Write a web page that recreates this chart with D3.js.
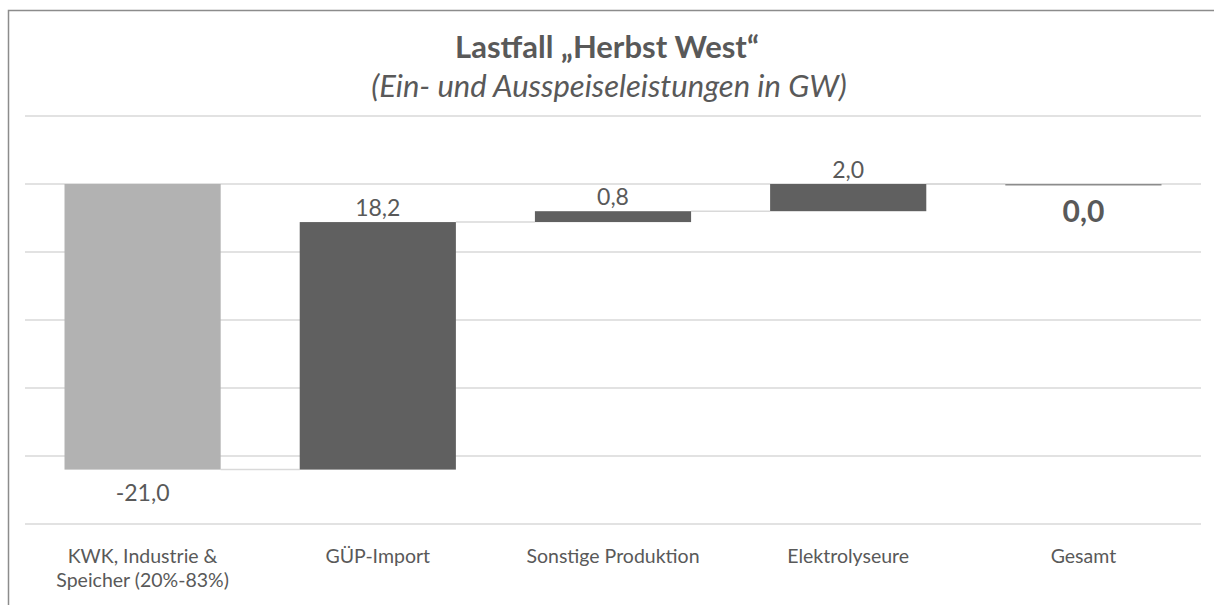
<!DOCTYPE html>
<html>
<head>
<meta charset="utf-8">
<script src="https://cdn.jsdelivr.net/npm/d3@7"></script>
<style>
  body { margin: 0; background: #fff; }
  svg { display: block; font-family: Lato, "Open Sans", sans-serif; }
</style>
</head>
<body>
<script>
'use strict';

let WIDTH = 1214;
let HEIGHT = 605;

let categories = [['KWK, Industrie &', 'Speicher (20%-83%)'], ['GÜP-Import'], ['Sonstige Produktion'], ['Elektrolyseure'], ['Gesamt']];
let values = [-21.0, 18.2, 0.8, 2.0, 0.0];
let isTotal = [false, false, false, false, true];
let yTicks = [5, 0, -5, -10, -15, -20, -25];

// waterfall start / end for each step
let steps = [];
let running = 0;
for (let i = 0; i < values.length; i++) {
    if (isTotal[i]) {
        steps.push({ i: i, start: 0, end: running, value: running });
    } else {
        steps.push({ i: i, start: running, end: running + values[i], value: values[i] });
        running += values[i];
    }
}

let svg = d3.select('body')
    .append('svg')
    .attr('width', WIDTH)
    .attr('height', HEIGHT);

// chart frame (only top/left edge visible in the crop)
svg.append('path')
    .attr('d', 'M8.5,' + HEIGHT + 'V10.5H' + WIDTH)
    .attr('fill', 'none')
    .attr('stroke', '#8c8c8c')
    .attr('stroke-width', 1.5);

svg.append('text')
    .attr('x', 607).attr('y', 58)
    .attr('text-anchor', 'middle')
    .attr('font-size', 31)
    .attr('font-weight', 'bold')
    .attr('fill', '#595959')
    .text('Lastfall \u201EHerbst West\u201C');

svg.append('text')
    .attr('x', 609).attr('y', 97)
    .attr('text-anchor', 'middle')
    .attr('font-size', 31)
    .attr('font-style', 'italic')
    .attr('fill', '#595959')
    .text('(Ein- und Ausspeiseleistungen in GW)');

let x = d3.scaleBand()
    .domain(d3.range(values.length))
    .range([25, 1201])
    .paddingInner(0.336)
    .paddingOuter(0.168);

let y = d3.scaleLinear()
    .domain([-25, 5])
    .range([524, 116]);

// gridlines
svg.append('g')
    .selectAll('line')
    .data(yTicks)
    .enter()
    .append('line')
    .attr('x1', 25).attr('x2', 1201)
    .attr('y1', function (d) { return y(d); })
    .attr('y2', function (d) { return y(d); })
    .attr('stroke', '#d9d9d9')
    .attr('stroke-width', 1.5);

// connectors between bars
svg.append('g')
    .selectAll('line')
    .data(steps.slice(0, -1))
    .enter()
    .append('line')
    .attr('x1', function (d) { return x(d.i) + x.bandwidth(); })
    .attr('x2', function (d) { return x(d.i + 1); })
    .attr('y1', function (d) { return y(d.end); })
    .attr('y2', function (d) { return y(d.end); })
    .attr('stroke', '#d9d9d9')
    .attr('stroke-width', 1.5);

// bars
svg.append('g')
    .selectAll('rect')
    .data(steps)
    .enter()
    .append('rect')
    .attr('x', function (d) { return x(d.i); })
    .attr('width', x.bandwidth())
    .attr('y', function (d) { return Math.min(y(d.start), y(d.end)); })
    .attr('height', function (d) { return Math.max(1.5, Math.abs(y(d.start) - y(d.end))); })
    .attr('fill', function (d) {
        if (isTotal[d.i]) return '#8c8c8c';
        return d.value < 0 ? '#b2b2b2' : '#606060';
    });

// value labels
let fmt = function (v) {
    let r = Math.round(v * 10) / 10;
    if (r === 0) r = 0;
    return r.toFixed(1).replace('.', ',');
};
svg.append('g')
    .selectAll('text')
    .data(steps)
    .enter()
    .append('text')
    .attr('x', function (d) { return x(d.i) + x.bandwidth() / 2; })
    .attr('y', function (d) {
        if (isTotal[d.i]) return y(d.end) + 38;
        if (d.value < 0) return y(d.end) + 31;
        return y(Math.max(d.start, d.end)) - 6;
    })
    .attr('text-anchor', 'middle')
    .attr('font-size', function (d) { return isTotal[d.i] ? 30 : 23; })
    .attr('font-weight', function (d) { return isTotal[d.i] ? 'bold' : 'normal'; })
    .attr('fill', '#595959')
    .text(function (d) { return fmt(d.value); });

// category labels
let catLabels = svg.append('g')
    .selectAll('text')
    .data(categories)
    .enter()
    .append('text')
    .attr('x', function (d, i) { return x(i) + x.bandwidth() / 2; })
    .attr('y', 563)
    .attr('text-anchor', 'middle')
    .attr('font-size', 19.5)
    .attr('fill', '#595959');

catLabels.selectAll('tspan')
    .data(function (d) { return d; })
    .enter()
    .append('tspan')
    .attr('x', function () { return d3.select(this.parentNode).attr('x'); })
    .attr('dy', function (d, j) { return j === 0 ? 0 : 23.5; })
    .text(function (d) { return d; });
</script>
</body>
</html>
